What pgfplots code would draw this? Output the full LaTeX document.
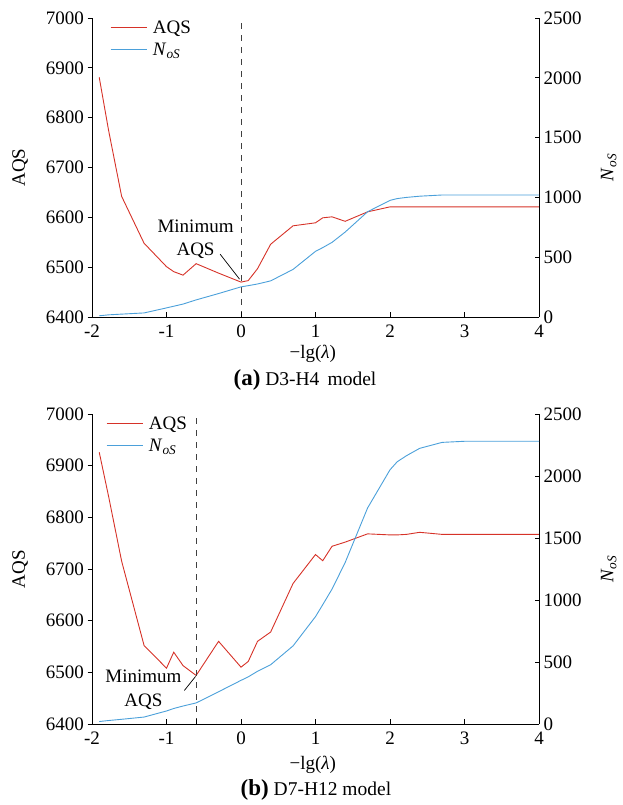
\documentclass[border=0pt]{standalone}
\usepackage{fontspec}
\setmainfont{Liberation Serif}
\usepackage{pgfplots}
\usepackage{pgfplotstable}
\pgfplotsset{compat=1.18}

\definecolor{aqsred}{RGB}{214,50,40}
\definecolor{nosblue}{RGB}{75,160,218}
\newcommand\fs{\fontsize{19}{22}\selectfont}

% panel (a): D3-H4
\pgfplotstableread{
x      aqs   nos
-1.903 6881  10
-1.778 6775  18
-1.602 6642  24
-1.301 6548  34
-1.000 6501  76
-0.903 6491  90
-0.778 6484  108
-0.602 6507  143
-0.301 6488  196
0.000  6470  252
0.097  6473  262
0.222  6497  276
0.398  6546  302
0.699  6583  398
1.000  6589  549
1.097  6599  580
1.222  6601  624
1.398  6592  710
1.699  6611  880
2.000  6621  975
2.097  6621  990
2.222  6621  1000
2.398  6621  1010
2.699  6621  1020
3.000  6621  1020
4.000  6621  1020
}\dataA

% panel (b): D7-H12
\pgfplotstableread{
x      aqs   nos
-1.903 6926  20
-1.778 6841  28
-1.602 6715  38
-1.301 6552  56
-1.000 6508  105
-0.903 6539  125
-0.778 6513  145
-0.602 6494  170
-0.301 6560  260
0.000  6510  352
0.097  6521  380
0.222  6560  425
0.398  6578  478
0.699  6672  630
1.000  6728  866
1.097  6716  962
1.222  6744  1088
1.398  6752  1302
1.699  6768  1742
2.000  6766  2050
2.097  6766  2115
2.222  6767  2164
2.398  6771  2223
2.699  6767  2271
3.000  6767  2280
4.000  6767  2280
}\dataB

\pgfplotsset{
  common/.style={
    scale only axis, width=447pt, xmin=-2, xmax=4,
    every tick label/.append style={font=\fs},
    label style={font=\fs},
    /pgf/number format/assume math mode=true,
    /pgf/number format/1000 sep={},
    major tick length=4.5pt,
    axis line style={line width=0.9pt},
    every tick/.style={black, line width=0.9pt},
  },
  leftax/.style={common,
    ymin=6400, ymax=7000, ytick={6400,6500,...,7000},
    axis x line=none, axis y line*=left, tick align=outside,
    ylabel={AQS},
    ylabel style={at={(axis description cs:-0.161,0.5)}, anchor=center},
  },
  rightax/.style={common,
    ymin=0, ymax=2500, ytick={0,500,...,2500},
    axis x line*=bottom, axis y line*=right, tick align=inside,
    xtick={-2,...,4}, xticklabel shift=4pt, yticklabel shift=1pt,
    xlabel={−lg(\textit{λ})},
    ylabel={\textit{N}\textsubscript{\textit{oS}}},
    ylabel style={at={(axis description cs:1.156,0.5)}, anchor=center},
    legend cell align=left,
    legend image code/.code={\draw[#1] (0pt,0pt) -- (36pt,0pt);},
  },
  legbox/.style={draw=none, fill=none, inner sep=0pt, font=\fs,
    row sep=4pt, column sep=4pt, anchor=north west},
}

\begin{document}
\begin{tikzpicture}
\path[use as bounding box] (0pt,0pt) rectangle (623pt,805pt);

% ---- (a) ----
\begin{axis}[leftax, at={(92pt,488pt)}, anchor=south west, height=299pt]
\addplot[aqsred, line width=0.9pt] table[x=x, y=aqs] {\dataA};
\draw[black!75, line width=1pt, dash pattern=on 6pt off 6pt] (axis cs:0,6400) -- (axis cs:0,7000);
\node[font=\fontsize{19}{23}\selectfont, align=center] at (axis cs:-0.61,6557) {Minimum\\AQS};
\draw[line width=0.7pt] (axis cs:-0.28,6526) -- (axis cs:-0.02,6476);
\end{axis}
\begin{axis}[rightax, at={(92pt,488pt)}, anchor=south west, height=299pt,
  xlabel style={at={(axis description cs:0.494,-0.124)}, anchor=center},
  legend style={legbox, at={(rel axis cs:0.04,0.998)}}]
\addlegendimage{aqsred, line width=0.9pt}
\addlegendentry{AQS}
\addplot[nosblue, line width=0.9pt] table[x=x, y=nos] {\dataA};
\addlegendentry{\textit{N}\textsubscript{\textit{oS}}}
\end{axis}
\node[font=\fontsize{19.5}{22}\selectfont] at (305pt,425pt) {\textbf{\fontsize{23}{24}\selectfont (a)} D3-H4\, model};

% ---- (b) ----
\begin{axis}[leftax, at={(92pt,81pt)}, anchor=south west, height=310pt]
\addplot[aqsred, line width=0.9pt] table[x=x, y=aqs] {\dataB};
\draw[black!75, line width=1pt, dash pattern=on 6pt off 6pt] (axis cs:-0.602,6400) -- (axis cs:-0.602,7000);
\node[font=\fontsize{19}{24}\selectfont, align=center] at (axis cs:-1.31,6467) {Minimum\\AQS};
\draw[line width=0.7pt] (axis cs:-0.76,6465) -- (axis cs:-0.61,6492);
\end{axis}
\begin{axis}[rightax, at={(92pt,81pt)}, anchor=south west, height=310pt,
  extra x ticks={-0.602}, extra x tick labels={},
  xlabel style={at={(axis description cs:0.494,-0.132)}, anchor=center},
  legend style={legbox, at={(rel axis cs:0.031,0.998)}}]
\addlegendimage{aqsred, line width=0.9pt}
\addlegendentry{AQS}
\addplot[nosblue, line width=0.9pt] table[x=x, y=nos] {\dataB};
\addlegendentry{\textit{N}\textsubscript{\textit{oS}}}
\end{axis}
\node[font=\fontsize{19.5}{22}\selectfont] at (316pt,15pt) {\textbf{\fontsize{23}{24}\selectfont (b)} D7-H12 model};
\end{tikzpicture}
\end{document}
